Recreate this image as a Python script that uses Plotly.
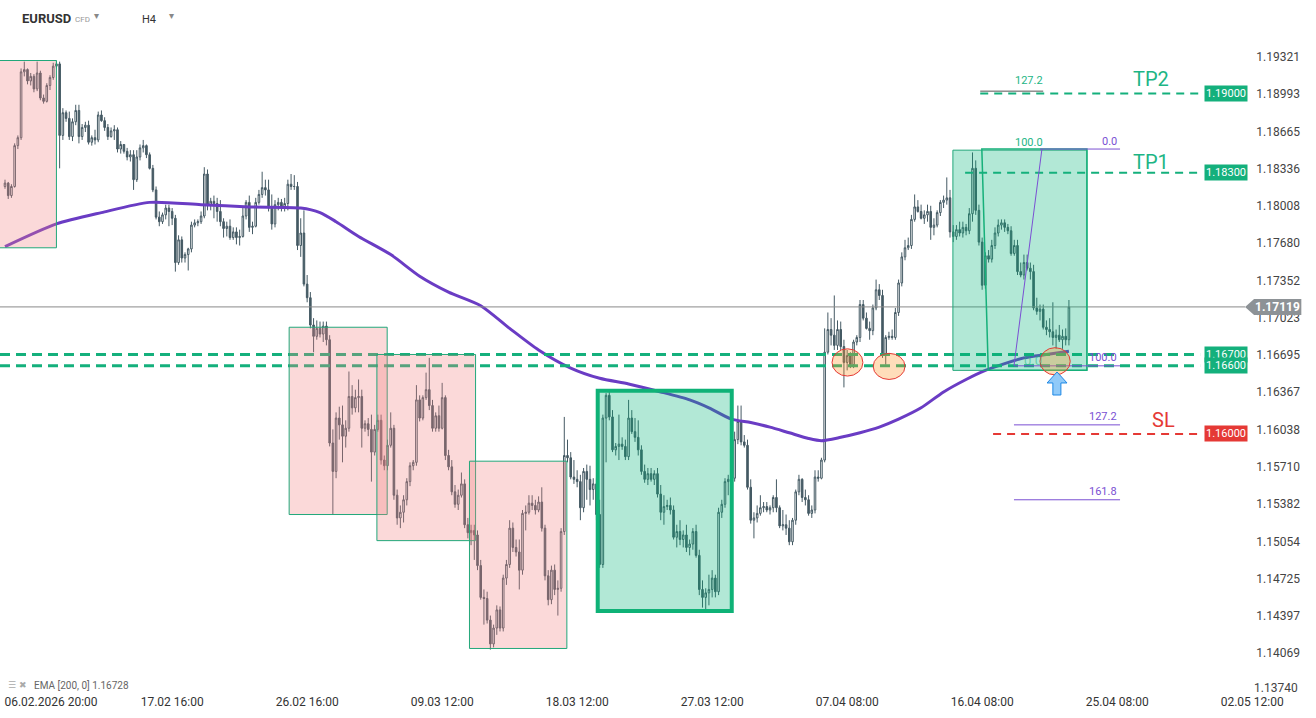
import plotly.graph_objects as go

# ---------------- data ----------------
OPEN = [1.1818,1.1821,1.1810,1.1818,1.1854,1.1861,1.1919,1.1921,1.1911,1.1915,1.1904,1.1918,1.1896,1.1893,1.1907,1.1914,1.1924,1.1926,1.1863,1.1883,
1.1878,1.1862,1.1875,1.1885,1.1862,1.1870,1.1872,1.1857,1.1861,1.1859,1.1881,1.1876,1.1870,1.1862,1.1867,1.1868,1.1851,1.1855,1.1849,1.1844,
1.1846,1.1824,1.1844,1.1852,1.1854,1.1846,1.1834,1.1815,1.1791,1.1787,1.1793,1.1799,1.1796,1.1790,1.1751,1.1771,1.1755,1.1758,1.1763,1.1784,
1.1786,1.1787,1.1792,1.1829,1.1802,1.1805,1.1803,1.1796,1.1787,1.1781,1.1783,1.1773,1.1778,1.1773,1.1774,1.1792,1.1804,1.1782,1.1783,1.1804,
1.1811,1.1817,1.1815,1.1799,1.1785,1.1802,1.1804,1.1800,1.1803,1.1820,1.1818,1.1818,1.1766,1.1777,1.1732,1.1720,1.1696,1.1686,1.1693,1.1688,
1.1695,1.1683,1.1592,1.1567,1.1614,1.1608,1.1598,1.1605,1.1633,1.1623,1.1632,1.1633,1.1605,1.1609,1.1604,1.1584,1.1604,1.1612,1.1577,1.1572,
1.1590,1.1605,1.1546,1.1526,1.1531,1.1542,1.1558,1.1572,1.1575,1.1630,1.1614,1.1632,1.1639,1.1625,1.1605,1.1616,1.1605,1.1632,1.1581,1.1571,
1.1549,1.1538,1.1546,1.1556,1.1520,1.1513,1.1515,1.1511,1.1484,1.1456,1.1455,1.1436,1.1415,1.1429,1.1445,1.1429,1.1473,1.1485,1.1517,1.1500,
1.1496,1.1480,1.1530,1.1531,1.1539,1.1537,1.1533,1.1540,1.1517,1.1475,1.1454,1.1480,1.1463,1.1464,1.1514,1.1581,1.1579,1.1562,1.1560,1.1558,
1.1535,1.1567,1.1560,1.1551,1.1556,1.1529,1.1485,1.1614,1.1634,1.1615,1.1586,1.1589,1.1591,1.1589,1.1580,1.1614,1.1602,1.1597,1.1586,1.1567,
1.1560,1.1565,1.1560,1.1565,1.1547,1.1531,1.1536,1.1537,1.1533,1.1509,1.1514,1.1507,1.1511,1.1500,1.1503,1.1514,1.1493,1.1463,1.1456,1.1460,
1.1463,1.1473,1.1461,1.1531,1.1538,1.1558,1.1560,1.1561,1.1595,1.1611,1.1593,1.1590,1.1553,1.1524,1.1526,1.1530,1.1535,1.1536,1.1533,1.1535,
1.1544,1.1535,1.1519,1.1520,1.1517,1.1505,1.1524,1.1549,1.1560,1.1544,1.1542,1.1530,1.1533,1.1562,1.1561,1.1577,1.1672,1.1692,1.1687,1.1678,
1.1692,1.1677,1.1663,1.1669,1.1661,1.1681,1.1685,1.1714,1.1702,1.1693,1.1691,1.1711,1.1727,1.1722,1.1670,1.1685,1.1686,1.1685,1.1707,1.1733,
1.1756,1.1764,1.1766,1.1789,1.1800,1.1796,1.1790,1.1793,1.1796,1.1782,1.1784,1.1795,1.1804,1.1806,1.1808,1.1778,1.1774,1.1780,1.1777,1.1782,
1.1779,1.1794,1.1834,1.1797,1.1769,1.1731,1.1757,1.1754,1.1766,1.1777,1.1784,1.1786,1.1782,1.1779,1.1759,1.1766,1.1743,1.1740,1.1751,1.1746,
1.1743,1.1711,1.1708,1.1710,1.1694,1.1692,1.1690,1.1685,1.1687,1.1683,1.1686,1.1683]

HIGH = [1.1824,1.1822,1.1820,1.1856,1.1863,1.1922,1.1928,1.1922,1.1918,1.1917,1.1928,1.1920,1.1899,1.1909,1.1916,1.1927,1.1929,1.1928,1.1887,1.1885,
1.1884,1.1878,1.1890,1.1890,1.1873,1.1875,1.1876,1.1863,1.1868,1.1884,1.1885,1.1879,1.1873,1.1870,1.1872,1.1870,1.1858,1.1855,1.1852,1.1850,
1.1850,1.1850,1.1855,1.1859,1.1855,1.1848,1.1837,1.1818,1.1796,1.1795,1.1802,1.1802,1.1799,1.1793,1.1775,1.1774,1.1760,1.1764,1.1787,1.1789,
1.1789,1.1796,1.1835,1.1833,1.1808,1.1810,1.1808,1.1806,1.1790,1.1787,1.1789,1.1782,1.1782,1.1780,1.1799,1.1806,1.1810,1.1787,1.1808,1.1815,
1.1831,1.1824,1.1824,1.1811,1.1806,1.1808,1.1807,1.1808,1.1824,1.1829,1.1828,1.1822,1.1790,1.1797,1.1740,1.1725,1.1702,1.1700,1.1699,1.1699,
1.1699,1.1687,1.1604,1.1619,1.1624,1.1625,1.1612,1.1655,1.1643,1.1639,1.1648,1.1639,1.1612,1.1614,1.1617,1.1608,1.1617,1.1617,1.1581,1.1595,
1.1619,1.1608,1.1551,1.1537,1.1546,1.1561,1.1575,1.1577,1.1643,1.1634,1.1634,1.1654,1.1667,1.1630,1.1619,1.1625,1.1645,1.1634,1.1586,1.1577,
1.1555,1.1551,1.1566,1.1560,1.1526,1.1520,1.1520,1.1515,1.1489,1.1463,1.1461,1.1440,1.1432,1.1449,1.1448,1.1476,1.1489,1.1524,1.1522,1.1507,
1.1507,1.1533,1.1537,1.1546,1.1546,1.1542,1.1545,1.1553,1.1520,1.1480,1.1484,1.1485,1.1471,1.1517,1.1615,1.1595,1.1584,1.1577,1.1568,1.1564,
1.1570,1.1573,1.1572,1.1561,1.1561,1.1542,1.1617,1.1636,1.1637,1.1621,1.1592,1.1617,1.1597,1.1595,1.1630,1.1621,1.1614,1.1612,1.1590,1.1573,
1.1570,1.1570,1.1568,1.1570,1.1555,1.1546,1.1542,1.1544,1.1537,1.1520,1.1524,1.1515,1.1520,1.1507,1.1517,1.1520,1.1498,1.1471,1.1464,1.1476,
1.1480,1.1476,1.1535,1.1542,1.1561,1.1564,1.1568,1.1602,1.1625,1.1625,1.1599,1.1595,1.1560,1.1531,1.1537,1.1546,1.1540,1.1540,1.1537,1.1546,
1.1560,1.1537,1.1533,1.1529,1.1524,1.1526,1.1551,1.1564,1.1561,1.1551,1.1546,1.1537,1.1568,1.1568,1.1579,1.1693,1.1707,1.1702,1.1722,1.1700,
1.1699,1.1683,1.1674,1.1672,1.1683,1.1687,1.1718,1.1718,1.1707,1.1699,1.1714,1.1736,1.1732,1.1727,1.1687,1.1690,1.1692,1.1711,1.1736,1.1760,
1.1771,1.1773,1.1793,1.1811,1.1806,1.1802,1.1797,1.1802,1.1801,1.1790,1.1797,1.1806,1.1810,1.1826,1.1815,1.1784,1.1784,1.1787,1.1787,1.1785,
1.1799,1.1848,1.1841,1.1802,1.1773,1.1760,1.1762,1.1771,1.1782,1.1789,1.1789,1.1789,1.1785,1.1783,1.1771,1.1771,1.1751,1.1758,1.1758,1.1751,
1.1749,1.1720,1.1714,1.1714,1.1700,1.1702,1.1716,1.1692,1.1696,1.1692,1.1693,1.1718]

LOW = [1.1816,1.1807,1.1808,1.1817,1.1851,1.1859,1.1915,1.1908,1.1907,1.1901,1.1902,1.1894,1.1891,1.1892,1.1903,1.1912,1.1922,1.1834,1.1859,1.1875,
1.1859,1.1858,1.1872,1.1856,1.1859,1.1866,1.1855,1.1854,1.1855,1.1857,1.1875,1.1867,1.1859,1.1861,1.1859,1.1848,1.1847,1.1847,1.1841,1.1840,
1.1815,1.1822,1.1841,1.1848,1.1843,1.1833,1.1813,1.1789,1.1783,1.1785,1.1789,1.1783,1.1784,1.1743,1.1749,1.1751,1.1751,1.1744,1.1760,1.1782,
1.1783,1.1785,1.1790,1.1797,1.1797,1.1790,1.1787,1.1783,1.1773,1.1774,1.1771,1.1771,1.1767,1.1766,1.1773,1.1789,1.1778,1.1776,1.1782,1.1802,
1.1808,1.1810,1.1796,1.1780,1.1782,1.1797,1.1796,1.1796,1.1797,1.1815,1.1815,1.1762,1.1756,1.1730,1.1716,1.1693,1.1672,1.1683,1.1685,1.1681,
1.1678,1.1589,1.1529,1.1561,1.1595,1.1575,1.1588,1.1602,1.1617,1.1619,1.1619,1.1588,1.1602,1.1598,1.1558,1.1581,1.1602,1.1573,1.1568,1.1568,
1.1588,1.1542,1.1520,1.1517,1.1522,1.1537,1.1554,1.1568,1.1572,1.1611,1.1612,1.1630,1.1621,1.1602,1.1602,1.1602,1.1604,1.1577,1.1568,1.1546,
1.1535,1.1533,1.1544,1.1517,1.1508,1.1502,1.1489,1.1480,1.1454,1.1432,1.1433,1.1410,1.1412,1.1423,1.1426,1.1426,1.1467,1.1482,1.1496,1.1492,
1.1463,1.1476,1.1515,1.1529,1.1533,1.1529,1.1531,1.1514,1.1471,1.1449,1.1450,1.1458,1.1440,1.1461,1.1511,1.1575,1.1560,1.1556,1.1553,1.1524,
1.1531,1.1542,1.1537,1.1542,1.1524,1.1482,1.1482,1.1575,1.1612,1.1584,1.1581,1.1577,1.1586,1.1577,1.1577,1.1600,1.1593,1.1581,1.1564,1.1557,
1.1555,1.1558,1.1555,1.1544,1.1524,1.1520,1.1533,1.1529,1.1507,1.1500,1.1502,1.1500,1.1496,1.1493,1.1498,1.1491,1.1458,1.1447,1.1445,1.1449,
1.1456,1.1456,1.1458,1.1526,1.1535,1.1546,1.1551,1.1558,1.1591,1.1590,1.1588,1.1551,1.1521,1.1508,1.1522,1.1528,1.1531,1.1531,1.1529,1.1531,
1.1531,1.1517,1.1515,1.1511,1.1502,1.1502,1.1520,1.1546,1.1540,1.1537,1.1528,1.1526,1.1530,1.1558,1.1560,1.1575,1.1670,1.1678,1.1674,1.1674,
1.1674,1.1641,1.1656,1.1658,1.1658,1.1678,1.1681,1.1700,1.1692,1.1683,1.1687,1.1709,1.1718,1.1667,1.1661,1.1683,1.1683,1.1683,1.1704,1.1730,
1.1753,1.1762,1.1763,1.1787,1.1795,1.1789,1.1785,1.1787,1.1771,1.1775,1.1782,1.1792,1.1799,1.1802,1.1773,1.1769,1.1771,1.1774,1.1773,1.1775,
1.1776,1.1787,1.1793,1.1766,1.1727,1.1728,1.1751,1.1751,1.1763,1.1774,1.1780,1.1778,1.1776,1.1757,1.1757,1.1740,1.1738,1.1736,1.1744,1.1736,
1.1709,1.1705,1.1700,1.1692,1.1687,1.1685,1.1678,1.1675,1.1681,1.1675,1.1678,1.1678]

CLOSE = [1.1821,1.1810,1.1818,1.1854,1.1861,1.1919,1.1921,1.1911,1.1915,1.1904,1.1918,1.1896,1.1893,1.1907,1.1914,1.1924,1.1926,1.1863,1.1883,1.1878,
1.1862,1.1875,1.1885,1.1862,1.1870,1.1872,1.1857,1.1861,1.1859,1.1881,1.1876,1.1870,1.1862,1.1867,1.1868,1.1851,1.1855,1.1849,1.1844,1.1846,
1.1824,1.1844,1.1852,1.1854,1.1846,1.1834,1.1815,1.1791,1.1787,1.1793,1.1799,1.1796,1.1790,1.1751,1.1771,1.1755,1.1758,1.1763,1.1784,1.1786,
1.1787,1.1792,1.1829,1.1802,1.1805,1.1803,1.1796,1.1787,1.1781,1.1783,1.1773,1.1778,1.1773,1.1774,1.1792,1.1804,1.1782,1.1783,1.1804,1.1811,
1.1817,1.1815,1.1799,1.1785,1.1802,1.1804,1.1800,1.1803,1.1820,1.1818,1.1818,1.1766,1.1777,1.1732,1.1720,1.1696,1.1686,1.1693,1.1688,1.1695,
1.1683,1.1592,1.1567,1.1614,1.1608,1.1598,1.1605,1.1633,1.1623,1.1632,1.1633,1.1605,1.1609,1.1604,1.1584,1.1604,1.1612,1.1577,1.1572,1.1590,
1.1605,1.1546,1.1526,1.1531,1.1542,1.1558,1.1572,1.1575,1.1630,1.1614,1.1632,1.1639,1.1625,1.1605,1.1616,1.1605,1.1632,1.1581,1.1571,1.1549,
1.1538,1.1546,1.1556,1.1520,1.1513,1.1515,1.1511,1.1484,1.1456,1.1455,1.1436,1.1415,1.1429,1.1445,1.1429,1.1473,1.1485,1.1517,1.1500,1.1496,
1.1480,1.1530,1.1531,1.1539,1.1537,1.1533,1.1540,1.1517,1.1475,1.1454,1.1480,1.1463,1.1464,1.1514,1.1581,1.1579,1.1562,1.1560,1.1558,1.1535,
1.1567,1.1560,1.1551,1.1556,1.1529,1.1485,1.1614,1.1634,1.1615,1.1586,1.1589,1.1591,1.1589,1.1580,1.1614,1.1602,1.1597,1.1586,1.1567,1.1560,
1.1565,1.1560,1.1565,1.1547,1.1531,1.1536,1.1537,1.1533,1.1509,1.1514,1.1507,1.1511,1.1500,1.1503,1.1514,1.1493,1.1463,1.1456,1.1460,1.1463,
1.1473,1.1461,1.1531,1.1538,1.1558,1.1560,1.1561,1.1595,1.1611,1.1593,1.1590,1.1553,1.1524,1.1526,1.1530,1.1535,1.1536,1.1533,1.1535,1.1544,
1.1535,1.1519,1.1520,1.1517,1.1505,1.1524,1.1549,1.1560,1.1544,1.1542,1.1530,1.1533,1.1562,1.1561,1.1577,1.1672,1.1692,1.1687,1.1678,1.1692,
1.1677,1.1663,1.1669,1.1661,1.1681,1.1685,1.1714,1.1702,1.1693,1.1691,1.1711,1.1727,1.1722,1.1670,1.1685,1.1686,1.1685,1.1707,1.1733,1.1756,
1.1764,1.1766,1.1789,1.1800,1.1796,1.1790,1.1793,1.1796,1.1782,1.1784,1.1795,1.1804,1.1806,1.1808,1.1778,1.1774,1.1780,1.1777,1.1782,1.1779,
1.1794,1.1834,1.1797,1.1769,1.1731,1.1757,1.1754,1.1766,1.1777,1.1784,1.1786,1.1782,1.1779,1.1759,1.1766,1.1743,1.1740,1.1751,1.1746,1.1743,
1.1711,1.1708,1.1710,1.1694,1.1692,1.1690,1.1685,1.1687,1.1683,1.1686,1.1683,1.17119]

BARS = list(range(len(OPEN)))

# EMA 200 (bar index, value)
EMA_BAR = [0,16,30,45,61,76,92,98,103,110,120,129,138,148,157,166,176,185,194,204,213,219,226,232,238,244,250,254,260,266,272,278,285,292,299,305,311,317,324,331]
EMA_VAL = [1.1765,1.1785,1.1795,1.1804,1.1802,1.1800,1.1799,1.1795,1.1787,1.1774,1.1758,1.1739,1.1725,1.1713,1.1693,1.1674,1.1658,1.1649,1.1644,1.1637,
1.1630,1.1623,1.1613,1.1610,1.1606,1.1601,1.1596,1.1594,1.1597,1.1601,1.1606,1.1613,1.1623,1.1637,1.1648,1.1656,1.1662,1.1667,1.1670,1.16728]

X_TICK_POS = [14.3, 52, 94, 136, 178, 220, 262, 304, 346, 388]
X_TICK_TEXT = ["06.02.2026 20:00", "17.02 16:00", "26.02 16:00", "09.03 12:00", "18.03 12:00",
               "27.03 12:00", "07.04 08:00", "16.04 08:00", "25.04 08:00", "02.05 12:00"]
Y_TICKS = [1.19321, 1.18993, 1.18665, 1.18336, 1.18008, 1.17680, 1.17352, 1.17023, 1.16695,
           1.16367, 1.16038, 1.15710, 1.15382, 1.15054, 1.14725, 1.14397, 1.14069]
Y_TICK_BOTTOM = 1.13740

LAST_PRICE = 1.17119
EMA_LAST = 1.16728
ENTRY_LEVELS = [1.1670, 1.1660]
TP2, TP1, SL = 1.1900, 1.1830, 1.1600

# analyst drawings: (bar from, bar to, price top, price bottom)
PINK_BOXES = [(-4, 16.0, 1.1929, 1.1764), (88.4, 118.9, 1.1694, 1.1529),
              (115.7, 146.4, 1.1670, 1.1506), (144.5, 174.8, 1.1576, 1.1411)]
GREEN_BOX = (184.4, 226.1, 1.1638, 1.1444)
TARGET_BOX = (294.9, 336.6, 1.1850, 1.1656)
ELLIPSES = [(257.3, 266.9, 1.1675, 1.1651), (270.1, 280.0, 1.1671, 1.1648), (322.0, 331.4, 1.1676, 1.1652)]
FIB_PURPLE = [("0.0", 1.1851, 322.0), ("100.0", 1.1660, 313.9), ("127.2", 1.1608, 313.9), ("161.8", 1.1542, 313.9)]
FIB_END = 346.9
LINES_END = 371.8

# ---------------- geometry of the page ----------------
W, H = 1316, 718
ML, MR, MT, MB = 0, 13, 0, 25
PW, PH = W - ML - MR, H - MT - MB
X_RANGE = [-1.556, -1.556 + PW / 3.2143]
Y_RANGE = [1.19823 - 0.0000881 * PH, 1.19823]
PY = 0.0000881       # price per pixel

def px(p):  # paper x from pixel
    return (p - ML) / PW

def py(p):  # paper y from pixel
    return 1 - (p - MT) / PH

FONT = "Roboto"
SLATE = "#455a64"
GREEN = "#14b07c"
PURPLE = "#7a4fd3"

fig = go.Figure()
fig.add_trace(go.Candlestick(
    x=BARS, open=OPEN, high=HIGH, low=LOW, close=CLOSE,
    increasing=dict(line=dict(color=SLATE, width=1), fillcolor="#ffffff"),
    decreasing=dict(line=dict(color=SLATE, width=1), fillcolor=SLATE),
    whiskerwidth=0, hoverinfo="skip", showlegend=False))
fig.add_trace(go.Scatter(x=EMA_BAR, y=EMA_VAL, mode="lines",
                         line=dict(color="#6a3cc4", width=3, shape="spline", smoothing=0.7),
                         hoverinfo="skip", showlegend=False))

shapes = []
shapes.append(dict(type="line", xref="x", yref="y", x0=X_RANGE[0], x1=385.8, y0=LAST_PRICE, y1=LAST_PRICE,
                   line=dict(color="#8a8a8a", width=1), layer="above"))
for lv in ENTRY_LEVELS:
    shapes.append(dict(type="line", xref="x", yref="y", x0=X_RANGE[0], x1=LINES_END, y0=lv, y1=lv,
                       line=dict(color=GREEN, width=3, dash="10px,6px"), layer="above"))
for x0, x1, y0, y1 in PINK_BOXES:
    shapes.append(dict(type="rect", xref="x", yref="y", x0=x0, x1=x1, y0=y0, y1=y1,
                       fillcolor="rgba(242,128,128,0.30)", line=dict(color="#22a77a", width=1), layer="above"))
x0, x1, y0, y1 = GREEN_BOX
shapes.append(dict(type="rect", xref="x", yref="y", x0=x0, x1=x1, y0=y0, y1=y1,
                   fillcolor="rgba(0,180,120,0.30)", line=dict(color="#0fb277", width=4), layer="above"))
x0, x1, y0, y1 = TARGET_BOX
shapes.append(dict(type="rect", xref="x", yref="y", x0=x0, x1=x1, y0=y0, y1=y1,
                   fillcolor="rgba(0,180,120,0.30)", line=dict(color="#22a77a", width=1), layer="above"))
shapes.append(dict(type="path", xref="x", yref="y",
                   path=f"M 303.9,{y0+0.0001} L {x1},{y0+0.0001} L {x1},{y1} L 305.9,{y1} Z",
                   line=dict(color="#16b07a", width=1.5), layer="above"))
shapes.append(dict(type="line", xref="x", yref="y", x0=303.4, x1=LINES_END, y0=TP2, y1=TP2,
                   line=dict(color=GREEN, width=2, dash="8px,6px"), layer="above"))
shapes.append(dict(type="line", xref="x", yref="y", x0=298.7, x1=LINES_END, y0=TP1, y1=TP1,
                   line=dict(color=GREEN, width=2, dash="8px,6px"), layer="above"))
shapes.append(dict(type="line", xref="x", yref="y", x0=307.4, x1=LINES_END, y0=SL, y1=SL,
                   line=dict(color="#e53935", width=2, dash="8px,6px"), layer="above"))
for lab, lv, xs in FIB_PURPLE:
    shapes.append(dict(type="line", xref="x", yref="y", x0=xs, x1=FIB_END, y0=lv, y1=lv,
                       line=dict(color=PURPLE, width=1), layer="above"))
shapes.append(dict(type="line", xref="x", yref="y", x0=322.6, x1=313.9, y0=1.1851, y1=1.1660,
                   line=dict(color=PURPLE, width=1), layer="above"))
shapes.append(dict(type="line", xref="x", yref="y", x0=303.4, x1=323.0, y0=1.1902, y1=1.1902,
                   line=dict(color="#555555", width=1), layer="above"))
for x0, x1, y0, y1 in ELLIPSES:
    shapes.append(dict(type="circle", xref="x", yref="y", x0=x0, x1=x1, y0=y0, y1=y1,
                       fillcolor="rgba(255,150,40,0.32)", line=dict(color="#e53935", width=1), layer="above"))
shapes.append(dict(type="path", xref="x", yref="y",
                   path="M 327.3,1.16546 L 330.4,1.16449 L 328.5,1.16449 L 328.5,1.16343 L 326.0,1.16343 L 326.0,1.16449 L 324.2,1.16449 Z",
                   fillcolor="#90caf9", line=dict(color="#1e88e5", width=1), layer="above"))
hh = 8 * PY
shapes.append(dict(type="path", xref="x", yref="y",
                   path=f"M 385.8,{LAST_PRICE} L 388.6,{LAST_PRICE+hh} L 403.3,{LAST_PRICE+hh} L 403.3,{LAST_PRICE-hh} L 388.6,{LAST_PRICE-hh} Z",
                   fillcolor="#8d9296", line=dict(width=0), layer="above"))

ann = []
def tag(text, price, color):
    ann.append(dict(x=380, y=price, xref="x", yref="y", text=text, showarrow=False,
                    bgcolor=color, borderpad=1, font=dict(family=FONT, size=11, color="white")))
tag("1.19000", TP2, GREEN)
tag("1.18300", TP1, GREEN)
tag("1.16700", ENTRY_LEVELS[0], GREEN)
tag("1.16600", ENTRY_LEVELS[1], GREEN)
tag("1.16000", SL, "#e53935")
ann.append(dict(x=396, y=LAST_PRICE, xref="x", yref="y", text="<b>1.17119</b>", showarrow=False,
                font=dict(family=FONT, size=12, color="white")))

ann.append(dict(x=356.6, y=1.1913, xref="x", yref="y", text="TP2", showarrow=False,
                font=dict(family=FONT, size=20, color="#1db585")))
ann.append(dict(x=356.6, y=1.1840, xref="x", yref="y", text="TP1", showarrow=False,
                font=dict(family=FONT, size=20, color="#1db585")))
ann.append(dict(x=360.3, y=1.1612, xref="x", yref="y", text="SL", showarrow=False,
                font=dict(family=FONT, size=20, color="#e53935")))
for lab, lv, xs in FIB_PURPLE:
    ann.append(dict(x=FIB_END - 0.3, y=lv + 8 * PY, xref="x", yref="y", text=lab, showarrow=False,
                    xanchor="right", font=dict(family=FONT, size=11, color=PURPLE)))
ann.append(dict(x=318.6, y=1.1857, xref="x", yref="y", text="100.0", showarrow=False,
                font=dict(family=FONT, size=11, color="#1db585")))
ann.append(dict(x=318.6, y=1.1911, xref="x", yref="y", text="127.2", showarrow=False,
                font=dict(family=FONT, size=11, color="#1db585")))
ann.append(dict(x=319.8, y=1.1665, xref="x", yref="y", text="0.0", showarrow=False,
                font=dict(family=FONT, size=13, color="rgba(30,180,130,0.55)")))

def ptext(x, y, text, size, color, family=FONT, xanchor="left"):
    ann.append(dict(x=px(x), y=py(y), xref="paper", yref="paper", text=text, showarrow=False,
                    xanchor=xanchor, yanchor="middle", font=dict(family=family, size=size, color=color)))

ptext(20, 18, "<b>EURUSD</b>", 13, "#333")
ptext(73, 20, "CFD", 8, "#999")
ptext(96, 16, "▾", 10, "#888", "DejaVu Sans", "center")
ptext(140, 19, "H4", 11, "#333")
ptext(172, 16, "▾", 10, "#888", "DejaVu Sans", "center")
ptext(6, 685, "☰ ✖", 9, "#aaa", "DejaVu Sans")
ptext(32, 685, f"EMA [200, 0] {EMA_LAST:.5f}", 10, "#666")
ptext(1300, 688, f"{Y_TICK_BOTTOM:.5f}", 12, "#444", FONT, "right")

fig.update_layout(
    width=W, height=H, margin=dict(l=ML, r=MR, t=MT, b=MB),
    paper_bgcolor="white", plot_bgcolor="white",
    shapes=shapes, annotations=ann, showlegend=False,
    xaxis=dict(range=X_RANGE, showgrid=False, zeroline=False, showline=False, ticks="",
               tickvals=X_TICK_POS, ticktext=X_TICK_TEXT, rangeslider=dict(visible=False),
               tickfont=dict(family=FONT, size=12, color="#333"), fixedrange=True),
    yaxis=dict(range=Y_RANGE, side="right", ticklabelposition="inside", showgrid=False,
               zeroline=False, showline=False, ticks="", tickvals=Y_TICKS,
               ticktext=[f"{v:.5f}" for v in Y_TICKS],
               tickfont=dict(family=FONT, size=12, color="#444"), fixedrange=True),
)

fig.write_html("out.html", config={"displayModeBar": False},
               post_script="document.body.style.margin='0';document.body.style.overflow='hidden';")
